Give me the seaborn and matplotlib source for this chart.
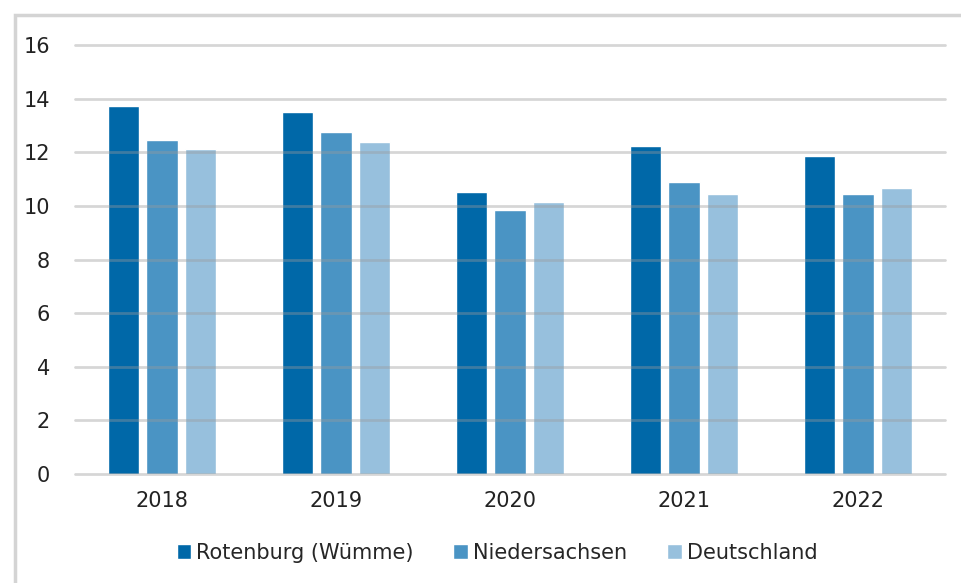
import matplotlib
matplotlib.use("Agg")
import matplotlib.pyplot as plt
import seaborn as sns
import pandas as pd
from matplotlib.patches import Rectangle

years = ["2018", "2019", "2020", "2021", "2022"]
series_names = ["Rotenburg (Wümme)", "Niedersachsen", "Deutschland"]
rotenburg = [13.73, 13.50, 10.52, 12.24, 11.87]
niedersachsen = [12.46, 12.76, 9.85, 10.90, 10.45]
deutschland = [12.13, 12.39, 10.15, 10.45, 10.67]
colors = ["#0068A8", "#4A94C4", "#97C0DD"]
yticks = [0, 2, 4, 6, 8, 10, 12, 14, 16]

rows = []
for name, vals in zip(series_names, [rotenburg, niedersachsen, deutschland]):
    for y, v in zip(years, vals):
        rows.append({"Jahr": y, "Gebiet": name, "Wert": v})
df = pd.DataFrame(rows)

sns.set_style("white")
plt.rcParams["font.family"] = ["DejaVu Sans"]

fig = plt.figure(figsize=(9.62, 5.83), dpi=100)
ax = fig.add_axes([75/962, 1 - 474/583, 870/962, (474-45)/583])

sns.barplot(data=df, x="Jahr", y="Wert", hue="Gebiet", palette=colors,
            width=0.66, gap=0.18, ax=ax, zorder=2, saturation=1)

ax.set_ylim(0, 16)
ax.set_xlim(-0.5, 4.5)
ax.set_yticks(yticks)
ax.set_yticklabels([str(t) for t in yticks])
for t in yticks:
    ax.axhline(t, color="#9A9A9A", alpha=0.4, lw=2.0, zorder=3, clip_on=False)
for s in ax.spines.values():
    s.set_visible(False)
ax.set_xlabel("")
ax.set_ylabel("")
ax.tick_params(axis="both", length=0, labelsize=15, colors="#222222")
ax.tick_params(axis="y", pad=18)
ax.tick_params(axis="x", pad=12)

handles, labels = ax.get_legend_handles_labels()
ax.legend_.remove()
fig.legend(handles, labels, loc="center", bbox_to_anchor=(497/962, 1 - 553/583),
           ncol=3, frameon=False, fontsize=15, handlelength=0.7, handleheight=0.7,
           handletextpad=0.25, columnspacing=1.9)

fig.patches.append(Rectangle((15/962, -0.05), 1.0, 1 - 15/583 + 0.05,
                             transform=fig.transFigure, fill=False,
                             edgecolor="#D4D4D4", lw=2.5))

fig.savefig("out.png", dpi=100)
